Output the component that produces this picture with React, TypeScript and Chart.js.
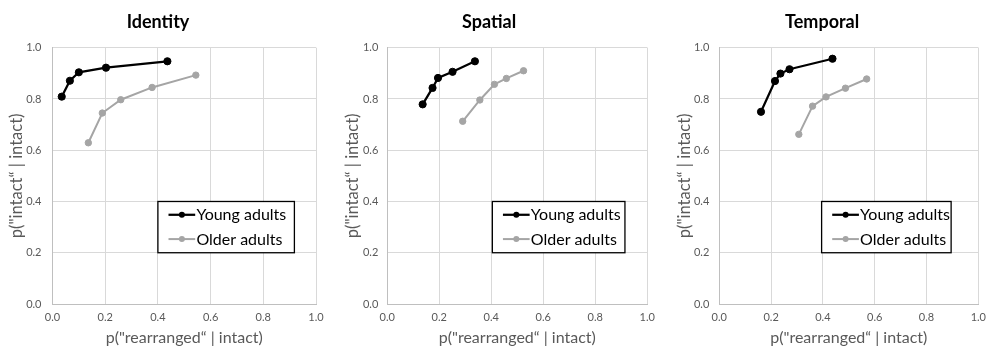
import { useEffect, useRef } from "react";
import { Chart, registerables } from "chart.js";
Chart.register(...registerables);

const FONT = "Lato, 'Liberation Sans', sans-serif";

const panelTitles = ["Identity", "Spatial", "Temporal"];
const seriesNames = ["Young adults", "Older adults"];
const xAxisTitle = "p(\"rearranged\u201C | intact)";
const yAxisTitle = "p(\"intact\u201C | intact)";

const identityYoungX = [0.035, 0.066, 0.1, 0.203, 0.436];
const identityYoungY = [0.809, 0.871, 0.904, 0.922, 0.947];
const identityOlderX = [0.136, 0.189, 0.259, 0.378, 0.544];
const identityOlderY = [0.629, 0.745, 0.797, 0.845, 0.893];

const spatialYoungX = [0.136, 0.174, 0.195, 0.251, 0.337];
const spatialYoungY = [0.779, 0.843, 0.882, 0.906, 0.947];
const spatialOlderX = [0.29, 0.356, 0.412, 0.458, 0.524];
const spatialOlderY = [0.713, 0.796, 0.857, 0.88, 0.91];

const temporalYoungX = [0.161, 0.215, 0.236, 0.271, 0.437];
const temporalYoungY = [0.75, 0.87, 0.899, 0.916, 0.957];
const temporalOlderX = [0.307, 0.36, 0.412, 0.487, 0.569];
const temporalOlderY = [0.662, 0.772, 0.808, 0.842, 0.878];

const panelData = [
  [identityYoungX, identityYoungY, identityOlderX, identityOlderY],
  [spatialYoungX, spatialYoungY, spatialOlderX, spatialOlderY],
  [temporalYoungX, temporalYoungY, temporalOlderX, temporalOlderY],
];

// layout per panel (pixels)
const panelLayout = [
  { left: 0, yAxisWidth: 52.5, right: 15, yTitlePad: 7, yTickPad: 11, legendX0: 0.4, legendX1: 0.918 },
  { left: 331, yAxisWidth: 56.3, right: 14.7, yTitlePad: 11.4, yTickPad: 9, legendX0: 0.404, legendX1: 0.914 },
  { left: 662, yAxisWidth: 57.3, right: 10.7, yTitlePad: 12.9, yTickPad: 10, legendX0: 0.395, legendX1: 0.895 },
];

const COLORS = ["#000000", "#a5a5a5"];

const legendPlugin = {
  id: "boxLegend",
  afterDatasetsDraw(chart: any, _args: any, opts: any) {
    const { ctx, scales } = chart;
    const x0 = scales.x.getPixelForValue(opts.x0);
    const x1 = scales.x.getPixelForValue(opts.x1);
    const y0 = scales.y.getPixelForValue(opts.y0);
    const y1 = scales.y.getPixelForValue(opts.y1);
    ctx.save();
    ctx.fillStyle = "#ffffff";
    ctx.fillRect(x0, y0, x1 - x0, y1 - y0);
    ctx.strokeStyle = "#000000";
    ctx.lineWidth = 1.3;
    ctx.strokeRect(x0, y0, x1 - x0, y1 - y0);
    const rows = [13.3, 37.6];
    chart.data.datasets.forEach((ds: any, i: number) => {
      const cy = y0 + rows[i];
      ctx.strokeStyle = ds.borderColor;
      ctx.lineWidth = ds.borderWidth;
      ctx.beginPath();
      ctx.moveTo(x0 + 10.6, cy);
      ctx.lineTo(x0 + 37.3, cy);
      ctx.stroke();
      ctx.fillStyle = ds.borderColor;
      ctx.beginPath();
      ctx.arc(x0 + 24, cy, 3, 0, Math.PI * 2);
      ctx.fill();
      ctx.fillStyle = "#000000";
      ctx.font = `16px ${FONT}`;
      ctx.textBaseline = "middle";
      ctx.textAlign = "left";
      ctx.fillText(ds.label, x0 + 38.5, cy + 0.5);
    });
    ctx.restore();
  },
};

function Panel({ idx }: { idx: number }) {
  const ref = useRef<HTMLCanvasElement>(null);
  useEffect(() => {
    const [yx, yy, ox, oy] = panelData[idx];
    const L = panelLayout[idx];
    const chart = new Chart(ref.current!, {
      type: "scatter",
      data: {
        datasets: [
          {
            label: seriesNames[0],
            data: yx.map((x, i) => ({ x, y: yy[i] })),
            showLine: true,
            borderColor: COLORS[0],
            backgroundColor: COLORS[0],
            borderWidth: 2.25,
            pointRadius: 3.6,
            pointBorderWidth: 1,
          },
          {
            label: seriesNames[1],
            data: ox.map((x, i) => ({ x, y: oy[i] })),
            showLine: true,
            borderColor: COLORS[1],
            backgroundColor: COLORS[1],
            borderWidth: 2,
            pointRadius: 3.2,
            pointBorderWidth: 1,
          },
        ],
      },
      options: {
        responsive: false,
        animation: false,
        layout: { padding: { left: 0, right: L.right, top: 0, bottom: 0 } },
        scales: {
          x: {
            type: "linear",
            min: 0,
            max: 1,
            afterFit: (s: any) => {
              s.height = 46;
            },
            ticks: {
              stepSize: 0.2,
              padding: 7,
              color: "#595959",
              font: { size: 11, family: FONT },
              callback: (v: any) => Number(v).toFixed(1),
            },
            grid: { color: "#d9d9d9", drawTicks: false, lineWidth: 1 },
            border: { color: "#bfbfbf" },
            title: {
              display: true,
              text: xAxisTitle,
              color: "#595959",
              font: { size: 16, family: FONT },
              padding: { top: 0, bottom: 2.7 },
            },
          },
          y: {
            type: "linear",
            min: 0,
            max: 1,
            afterFit: (s: any) => {
              s.width = L.yAxisWidth;
            },
            ticks: {
              stepSize: 0.2,
              padding: L.yTickPad,
              color: "#595959",
              font: { size: 11, family: FONT },
              callback: (v: any) => Number(v).toFixed(1),
            },
            grid: { color: "#d9d9d9", drawTicks: false, lineWidth: 1 },
            border: { color: "#bfbfbf" },
            title: {
              display: true,
              text: yAxisTitle,
              color: "#595959",
              font: { size: 16.5, family: FONT },
              padding: { top: L.yTitlePad, bottom: 0 },
            },
          },
        },
        plugins: {
          legend: { display: false },
          tooltip: { enabled: false },
          title: {
            display: true,
            text: panelTitles[idx],
            color: "#000000",
            font: { size: 18, weight: "bold", family: FONT },
            padding: { top: 11.2, bottom: 14.9 },
          },
          boxLegend: { x0: L.legendX0, x1: L.legendX1, y0: 0.4, y1: 0.2 },
        } as any,
      },
      plugins: [legendPlugin],
    });
    return () => chart.destroy();
  }, [idx]);
  const L = panelLayout[idx];
  return (
    <canvas
      ref={ref}
      width={331}
      height={350}
      style={{ position: "absolute", left: L.left, top: 0, width: 331, height: 350 }}
    />
  );
}

export default function App() {
  return (
    <div style={{ position: "fixed", left: 0, top: 0, width: 993, height: 350, background: "#ffffff" }}>
      {[0, 1, 2].map((i) => (
        <Panel key={i} idx={i} />
      ))}
    </div>
  );
}
